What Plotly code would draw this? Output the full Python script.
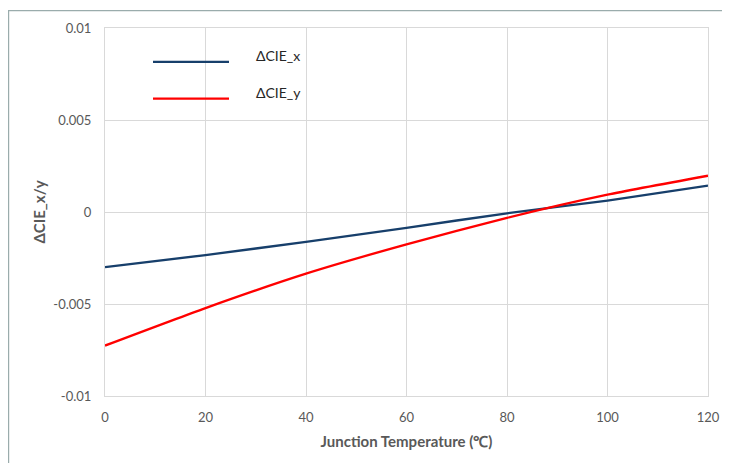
import plotly.graph_objects as go

temp = [0, 20, 40, 60, 80, 100, 120]
cie_x = [-0.00300, -0.00234, -0.00162, -0.00086, -0.00007, 0.00062, 0.00143]
cie_y = [-0.00726, -0.00522, -0.00335, -0.00176, -0.00032, 0.00094, 0.00197]
names = ["ΔCIE_x", "ΔCIE_y"]
colors = ["#173f6b", "#ff0000"]
x_ticks = [0, 20, 40, 60, 80, 100, 120]
y_ticks = [-0.01, -0.005, 0, 0.005, 0.01]
y_labels = ["-0.01", "-0.005", "0", "0.005", "0.01"]

OFF = 8  # page body margin
W, H = 730, 463
L, R, T, B = 105 - OFF, 22 + OFF, 26 - OFF, 67 + OFF
pw, ph = W - L - R, H - T - B

def px(x):
    return (x - OFF - L) / pw

def py(y):
    return (H - B - (y - OFF)) / ph

fig = go.Figure()
for ys, nm, c in zip([cie_x, cie_y], names, colors):
    fig.add_trace(go.Scatter(x=temp, y=ys, mode="lines", name=nm,
                             line=dict(color=c, width=2.3, shape="spline", smoothing=0.6),
                             showlegend=False))

font_fam = "Lato, Liberation Sans, sans-serif"
shapes = [
    dict(type="rect", xref="paper", yref="paper", x0=px(8.6), x1=px(760), y0=py(490), y1=py(8.6),
         line=dict(color="#9aacac", width=1.2), fillcolor="rgba(0,0,0,0)", layer="below"),
    dict(type="rect", xref="paper", yref="paper", x0=px(133), x1=px(318), y0=py(122), y1=py(27),
         line=dict(width=0), fillcolor="white", layer="between"),
]
annotations = []
for i, (nm, c) in enumerate(zip(names, colors)):
    yy = 60 + i * 37
    shapes.append(dict(type="line", xref="paper", yref="paper", x0=px(153), x1=px(229),
                       y0=py(yy), y1=py(yy), line=dict(color=c, width=2.3)))
    annotations.append(dict(xref="paper", yref="paper", x=px(254), y=py(yy - 6), text=nm,
                            showarrow=False, xanchor="left", yanchor="middle",
                            font=dict(family=font_fam, size=14, color="#262626")))

fig.update_layout(
    width=W, height=H,
    margin=dict(l=L, r=R, t=T, b=B),
    paper_bgcolor="white", plot_bgcolor="white",
    shapes=shapes, annotations=annotations,
    font=dict(family=font_fam, size=13, color="#595959"),
    xaxis=dict(range=[0, 120], tickvals=x_ticks, showgrid=True, gridcolor="#d9d9d9", gridwidth=1,
               zeroline=False, showline=True, linecolor="#d9d9d9", linewidth=1, mirror=True,
               ticks="outside", ticklen=9, tickcolor="rgba(0,0,0,0)",
               title=dict(text="<b>Junction Temperature (℃)</b>", font=dict(size=15, color="#595959"),
                          standoff=12),
               tickfont=dict(size=13, color="#595959")),
    yaxis=dict(range=[-0.01, 0.01], tickvals=y_ticks, ticktext=y_labels, showgrid=True,
               gridcolor="#d9d9d9", gridwidth=1, zeroline=False, showline=True,
               linecolor="#d9d9d9", linewidth=1, mirror=True,
               ticks="outside", ticklen=10, tickcolor="rgba(0,0,0,0)",
               title=dict(text="<b>ΔCIE_x/y</b>", font=dict(size=15, color="#595959"), standoff=4),
               tickfont=dict(size=13, color="#595959")),
)
fig.write_html("out.html")
